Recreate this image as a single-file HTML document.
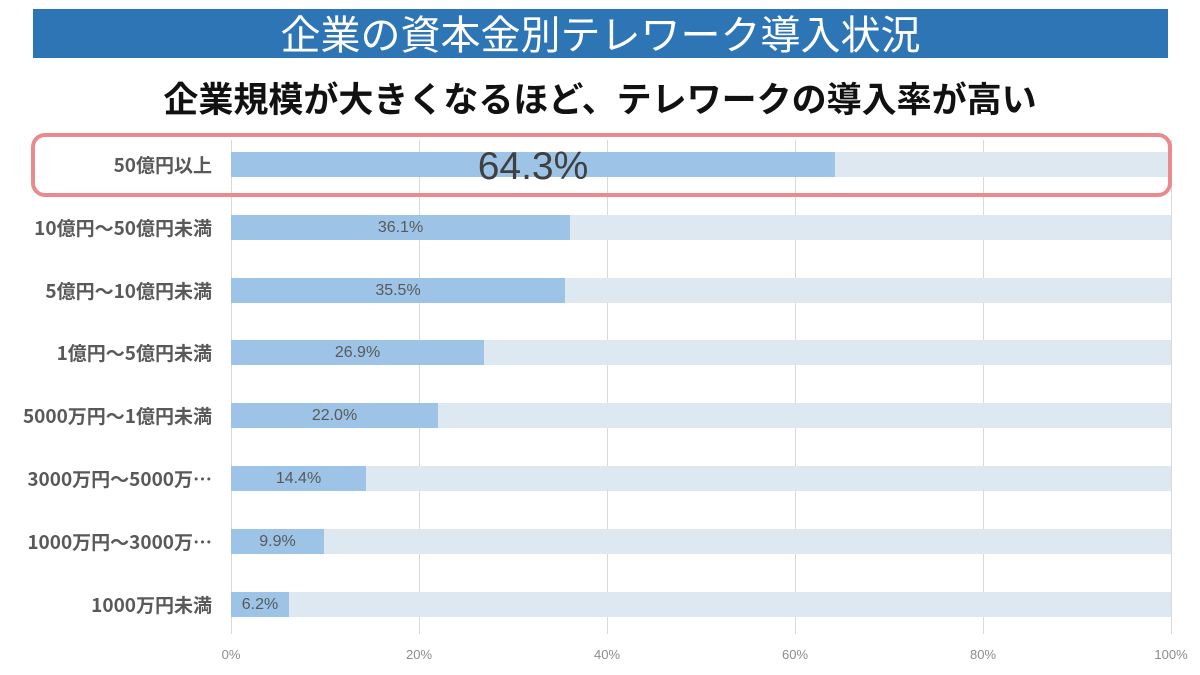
<!DOCTYPE html>
<html><head><meta charset="utf-8"><style>
body{margin:0;width:1200px;height:675px;background:#fff;position:relative;overflow:hidden;font-family:"Liberation Sans","Noto Sans CJK JP",sans-serif}
.t{position:absolute;left:33px;top:9px;width:1135px;height:49px;background:#2e75b6;color:#fff;font-size:40px;line-height:47px;text-align:center;font-family:"Noto Sans CJK JP",sans-serif}
.s{position:absolute;left:0;width:1200px;top:72px;text-align:center;font-size:35px;font-weight:bold;color:#111;font-family:"Noto Sans CJK JP",sans-serif}
.g{position:absolute;top:140px;height:494px;width:1px;background:#d9d9d9}
.bg{position:absolute;left:231px;width:940px;height:25px;background:#dde8f1}
.b{position:absolute;left:231px;height:25px;background:#9dc3e6;color:#595959;font-size:16px;line-height:25px;text-align:center}
.l{position:absolute;right:988px;font-size:19px;font-weight:bold;color:#595959;line-height:25px;white-space:nowrap;font-family:"Noto Sans CJK JP",sans-serif}
.x{position:absolute;top:647px;font-size:13px;color:#8c8c8c;width:60px;text-align:center}
.box{position:absolute;left:31px;top:133px;width:1133px;height:56px;border:4px solid #ea8a8f;border-radius:14px}
</style></head><body>
<div class="t">企業の資本金別テレワーク導入状況</div>
<div class="s">企業規模が大きくなるほど、テレワークの導入率が高い</div>
<div class="g" style="left:231px"></div><div class="g" style="left:419px"></div><div class="g" style="left:607px"></div><div class="g" style="left:795px"></div><div class="g" style="left:983px"></div><div class="g" style="left:1171px"></div>

<div class="bg" style="top:152px"></div><div class="b" style="top:152px;width:604px;font-size:39px;color:#404040;overflow:visible;line-height:30px">64.3%</div><div class="l" style="top:152px">50億円以上</div>
<div class="bg" style="top:215px"></div><div class="b" style="top:215px;width:339px">36.1%</div><div class="l" style="top:215px">10億円～50億円未満</div>
<div class="bg" style="top:278px"></div><div class="b" style="top:278px;width:334px">35.5%</div><div class="l" style="top:278px">5億円～10億円未満</div>
<div class="bg" style="top:340px"></div><div class="b" style="top:340px;width:253px">26.9%</div><div class="l" style="top:340px">1億円～5億円未満</div>
<div class="bg" style="top:403px"></div><div class="b" style="top:403px;width:207px">22.0%</div><div class="l" style="top:403px">5000万円～1億円未満</div>
<div class="bg" style="top:466px"></div><div class="b" style="top:466px;width:135px">14.4%</div><div class="l" style="top:466px">3000万円～5000万…</div>
<div class="bg" style="top:529px"></div><div class="b" style="top:529px;width:93px">9.9%</div><div class="l" style="top:529px">1000万円～3000万…</div>
<div class="bg" style="top:592px"></div><div class="b" style="top:592px;width:58px">6.2%</div><div class="l" style="top:592px">1000万円未満</div>
<div class="box"></div>
<div class="x" style="left:201px">0%</div><div class="x" style="left:389px">20%</div><div class="x" style="left:577px">40%</div><div class="x" style="left:765px">60%</div><div class="x" style="left:953px">80%</div><div class="x" style="left:1141px">100%</div>
</body></html>
